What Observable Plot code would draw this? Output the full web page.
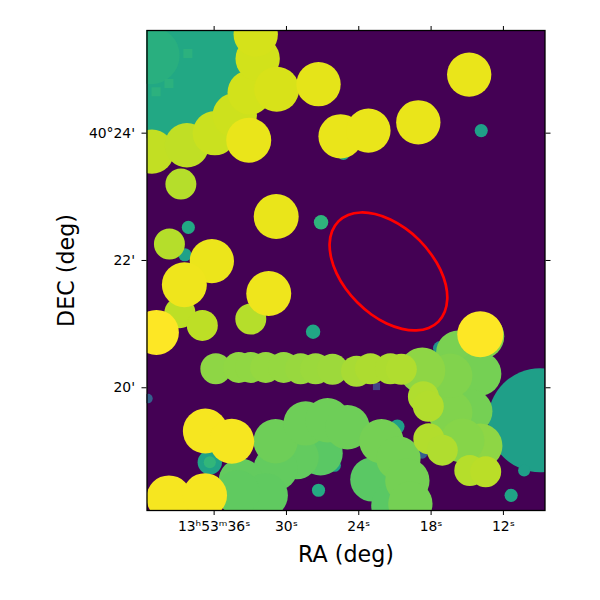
<!DOCTYPE html>
<html>
<head>
<meta charset="utf-8">
<script src="https://cdn.jsdelivr.net/npm/d3@7"></script>
<script src="https://cdn.jsdelivr.net/npm/@observablehq/plot@0.6"></script>
<style>html,body{margin:0;padding:0;background:#fff}svg{display:block}</style>
</head>
<body>
<div id="chart"></div>
<script>
// RA seconds past 13h53m, DEC arcmin past 40deg, beam radius in arcsec, colour score
const raValues = [41.57,41.24,8.96,
  10.28,11.36,13.84,25.27,27.13,38.14,38.43,27.79,20.80,17.24,27.34,26.01,36.36,36.36,41.49,18.73,
  22.87,21.13,27.17,29.16,30.90,33.79,31.72,34.04,
  30.90,28.41,26.59,24.94,22.12,20.71,19.97,19.72,
  13.84,15.75,14.01,14.75,16.41,16.41,13.92,15.41,18.73,
  35.86,33.96,32.96,31.72,30.23,28.83,27.58,26.18,24.19,23.03,21.38,20.47,
  18.64,18.23,18.19,17.07,14.79,13.47,38.84,36.98,32.96,39.71,38.76,
  41.16,38.26,35.94,34.29,33.05,32.39,32.55,30.81,27.34,14.84,25.51,23.20,19.06,33.13,
  30.85,31.47,36.19,38.47,36.73,34.54,39.75,36.77,40.79,13.92];
const decValues = [25.49,25.22,19.49,
  18.70,18.31,24.04,23.68,22.60,22.52,22.09,20.88,19.39,20.62,18.39,18.78,18.83,18.83,19.83,18.97,
  18.56,18.15,18.97,18.91,18.73,18.54,18.31,18.36,
  19.16,19.44,19.49,19.38,19.16,18.89,18.54,18.18,
  20.81,20.55,20.22,19.63,19.61,20.19,19.09,19.17,20.27,
  20.30,20.32,20.32,20.32,20.32,20.30,20.30,20.29,20.26,20.30,20.30,20.29,
  19.86,19.71,19.20,19.02,18.70,18.68,21.18,20.98,21.08,22.26,23.20,
  23.71,23.81,24.00,24.28,24.64,25.17,25.55,24.69,24.77,24.92,23.95,24.04,24.17,23.89,
  22.69,21.48,21.99,21.62,19.32,19.16,18.27,18.31,20.87,20.84];
const beamSizes = [94.3,27,49,
  5.7,6.2,6.2,6,6.8,6.2,6.2,6.8,6.8,6.8,6.2,6,11.5,5.7,4.5,5,
  20.9,20.9,20.9,20.9,20.9,20.9,20.9,20.9,
  20.9,20.9,20.9,20.9,20.9,20.9,20.9,20.9,
  21.7,20.9,20.9,20.9,20.9,20.9,20.9,20.9,21.7,
  14.6,14.6,14.6,14.6,14.6,14.6,14.6,14.6,14.6,14.6,14.6,14.6,
  14.6,14.6,14.6,14.6,14.6,14.6,14.6,14.6,14.6,14.6,14.6,
  20.9,20.9,20.9,20.9,20.9,20.9,20.9,21.2,20.9,20.9,20.9,20.9,20.9,21.2,
  21.2,21.2,20.9,21.2,21.2,21.2,21.2,20.9,21.2,21.7];
const scores = [0.6,0.63,0.56,
  0.56,0.58,0.56,0.6,0.65,0.6,0.57,0.59,0.56,0.5,0.61,0.57,0.58,0.66,0.3,0.3,
  0.745,0.745,0.745,0.76,0.76,0.76,0.755,0.755,
  0.78,0.78,0.78,0.78,0.79,0.79,0.79,0.79,
  0.81,0.8,0.79,0.79,0.81,0.81,0.83,0.82,0.83,
  0.83,0.835,0.835,0.84,0.84,0.845,0.85,0.855,0.87,0.875,0.875,0.88,
  0.88,0.885,0.885,0.88,0.89,0.895,0.9,0.9,0.89,0.89,0.89,
  0.91,0.905,0.92,0.925,0.93,0.93,0.935,0.94,0.96,0.965,0.965,0.965,0.965,0.965,
  0.965,0.975,0.97,0.975,0.985,0.985,0.985,0.985,1,1];
// square markers
const squareRa = [39.75,40.82,38.18,22.53];
const squareDec = [24.78,24.65,25.25,20.02];
const squareSizes = [4.8,4.8,4.8,3.8];
const squareScores = [0.64,0.64,0.64,0.2];
// red region outline
const regionRa = [17.39,16.87,16.66,16.78,17.23,17.98,18.96,20.13,21.38,22.65,23.84,24.88,25.69,26.21,26.42,26.29,25.84,25.10,24.11,22.95,21.69,20.42,19.23,18.20];
const regionDec = [21.040,21.193,21.390,21.616,21.857,22.095,22.316,22.503,22.644,22.730,22.754,22.715,22.615,22.462,22.265,22.039,21.798,21.559,21.339,21.151,21.010,20.925,20.901,20.940];
// axes
const raTicks = [36,30,24,18,12];
const raTickLabels = ["13ʰ53ᵐ36ˢ","30ˢ","24ˢ","18ˢ","12ˢ"];
const decTicks = [24,22,20];
const decTickLabels = ["40°24'","22'","20'"];

const beams = raValues.map((ra,i)=>({ra,dec:decValues[i],size:beamSizes[i],score:scores[i]}));
const squares = squareRa.map((ra,i)=>({ra,dec:squareDec[i],size:squareSizes[i],score:squareScores[i]}));
const region = regionRa.map((ra,i)=>({ra,dec:regionDec[i]}));

const blank = () => "";
const chart = Plot.plot({
  width:600, height:600,
  marginLeft:146.5, marginRight:55.5, marginTop:30, marginBottom:90,
  style:{fontFamily:"DejaVu Sans",fontSize:"13.9px",background:"#fff",color:"#000"},
  x:{domain:[41.57,8.55],label:null},
  y:{domain:[18.072,25.613],label:null},
  color:{type:"linear",scheme:"viridis",domain:[0,1]},
  r:{type:"linear",domain:[0,60],range:[0,63.65]},
  marks:[
    Plot.frame({fill:"#440154",stroke:"none"}),
    Plot.dot(squares,{x:"ra",y:"dec",r:"size",fill:"score",symbol:"square",clip:true,sort:null}),
    Plot.dot(beams.slice(0,2),{x:"ra",y:"dec",r:"size",fill:"score",clip:true,sort:null}),
    Plot.dot(squares.slice(0,3),{x:"ra",y:"dec",r:"size",fill:"score",symbol:"square",clip:true,sort:null}),
    Plot.dot(beams.slice(2),{x:"ra",y:"dec",r:"size",fill:"score",clip:true,sort:null}),
    Plot.line(region,{x:"ra",y:"dec",stroke:"#f00",strokeWidth:2.7,curve:"catmull-rom-closed"}),
    Plot.axisX({anchor:"bottom",ticks:raTicks,tickFormat:d=>raTickLabels[raTicks.indexOf(d)],label:null,tickSize:5,tickPadding:6,fontSize:13.9}),
    Plot.axisX({anchor:"top",ticks:raTicks,tickFormat:blank,label:null,tickSize:5}),
    Plot.axisY({anchor:"left",ticks:decTicks,tickFormat:d=>decTickLabels[decTicks.indexOf(d)],label:null,tickSize:5,tickPadding:7,fontSize:13.9}),
    Plot.axisY({anchor:"right",ticks:decTicks,tickFormat:blank,label:null,tickSize:5}),
    Plot.frame({stroke:"#000",strokeWidth:1.3}),
    Plot.text(["RA (deg)"],{frameAnchor:"bottom",dy:44,fontSize:22.2,lineAnchor:"middle",fill:"#000"}),
    Plot.text(["DEC (deg)"],{frameAnchor:"left",dx:-80,rotate:-90,textAnchor:"middle",lineAnchor:"middle",fontSize:22.2,fill:"#000"})
  ]
});
document.getElementById("chart").appendChild(chart);
</script>
</body>
</html>
